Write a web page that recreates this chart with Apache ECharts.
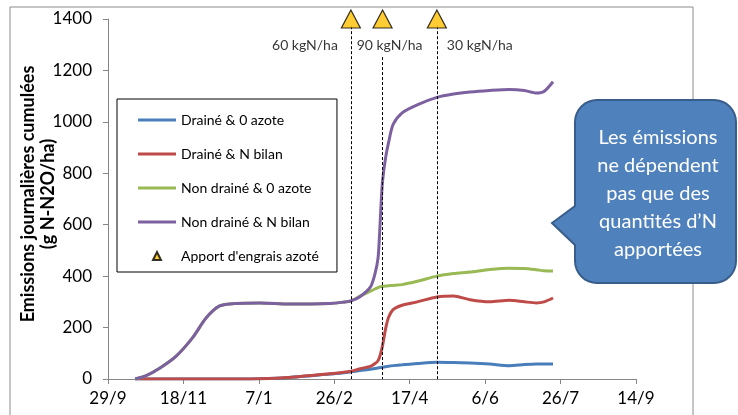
<!DOCTYPE html>
<html>
<head>
<meta charset="utf-8">
<script src="https://cdn.jsdelivr.net/npm/echarts@6/dist/echarts.min.js"></script>
<style>
    html, body { margin: 0; padding: 0; background: #fff; }
    #chart { width: 738px; height: 415px; }
</style>
</head>
<body>
<div id="chart"></div>
<script>
// jours depuis le 29/9
var xLabels = ['29/9', '18/11', '7/1', '26/2', '17/4', '6/6', '26/7', '14/9'];
var days = [18, 25, 35, 45, 56, 65, 74, 85, 101, 120, 147, 155, 161, 167, 174, 177, 179, 180, 181, 182, 184, 186, 189, 195, 205, 218, 229, 240, 253, 266, 276, 284, 289, 295];

var draineZero     = [0, 0, 0, 0, 0, 0, 0, 0, 1, 6, 19, 23, 28, 33, 38, 41, 43, 44, 45, 46, 48, 50, 52, 55, 60, 65, 64, 62, 58, 52, 56, 58, 58, 58];
var draineBilan    = [0, 0, 0, 0, 0, 0, 0, 0, 1, 6, 20, 25, 30, 40, 49, 60, 71, 85, 105, 130, 195, 240, 270, 287, 300, 319, 323, 308, 300, 306, 300, 296, 300, 315];
var nonDraineZero  = [0, 12, 45, 88, 160, 237, 284, 294, 296, 292, 294, 298, 304, 322, 342, 350, 355, 358, 359, 360, 362, 363, 364, 367, 380, 400, 410, 416, 426, 431, 430, 425, 421, 420];
var nonDraineBilan = [0, 12, 45, 88, 160, 237, 284, 294, 296, 292, 294, 298, 304, 320, 358, 410, 470, 560, 680, 770, 860, 920, 990, 1035, 1066, 1095, 1108, 1116, 1122, 1126, 1122, 1112, 1118, 1156];

var apportDays = [161, 182, 218];
var apportLabels = ['60 kgN/ha', '90 kgN/ha', '30 kgN/ha'];

var seriesNames = ['Drainé & 0 azote', 'Drainé & N bilan', 'Non drainé & 0 azote', 'Non drainé & N bilan', "Apport d'engrais azoté"];
var seriesColors = ['#4A7EBB', '#BE4B48', '#98B954', '#7D60A0'];
var calloutLines = ['Les émissions', 'ne dépendent', 'pas que des', 'quantités d\u2019N', 'apportées'];

function pairs(vals) {
    return days.map(function (d, i) { return [d, vals[i]]; });
}

// contour de la bulle : rectangle arrondi + pointe à gauche
function bubblePoints(x0, y0, x1, y1, r, tip) {
    var pts = [];
    function arc(cx, cy, a0, a1) {
        for (var k = 0; k <= 8; k++) {
            var a = a0 + (a1 - a0) * k / 8;
            pts.push([cx + r * Math.cos(a), cy + r * Math.sin(a)]);
        }
    }
    arc(x0 + r, y0 + r, Math.PI, Math.PI * 1.5);
    arc(x1 - r, y0 + r, Math.PI * 1.5, Math.PI * 2);
    arc(x1 - r, y1 - r, 0, Math.PI * 0.5);
    arc(x0 + r, y1 - r, Math.PI * 0.5, Math.PI);
    pts.push([x0, tip[2]], [tip[0], tip[1]], [x0, tip[3]]);
    return pts;
}

var font = 'Lato';
var linePath = 'path://M0,0 L38,0 L38,3 L0,3 Z';
// petit triangle dans une boîte 38x10
var triPath = 'path://M0,0 M38,10 M15,9 L19,1 L23,9 Z';

var lineSeries = [draineZero, draineBilan, nonDraineZero, nonDraineBilan].map(function (vals, i) {
    return {
        name: seriesNames[i],
        type: 'line',
        data: pairs(vals),
        showSymbol: false,
        smooth: 0.25,
        color: seriesColors[i],
        lineStyle: { width: 3, color: seriesColors[i] }
    };
});

// placement des étiquettes des apports
var labelCfg = [
    { align: 'right', offset: [-13, 26] },
    { align: 'center', offset: [7, 26] },
    { align: 'left', offset: [10, 26] }
];

var apportSeries = {
    name: seriesNames[4],
    type: 'scatter',
    symbol: 'triangle',
    symbolSize: [19, 18],
    clip: false,
    z: 5,
    itemStyle: { color: '#FFC000', borderColor: '#000', borderWidth: 1.2 },
    data: apportDays.map(function (d, i) {
        return {
            value: [d, 1400],
            label: {
                show: true,
                formatter: apportLabels[i],
                position: 'inside',
                align: labelCfg[i].align,
                offset: labelCfg[i].offset,
                color: '#000',
                fontSize: 14,
                fontFamily: font
            }
        };
    }),
    markLine: {
        silent: true,
        symbol: ['none', 'none'],
        label: { show: false },
        lineStyle: { color: '#000', type: [3, 2], width: 1 },
        data: apportDays.map(function (d, i) {
            return [{ coord: [d, i === 1 ? 1252 : 1372] }, { coord: [d, 0] }];
        })
    }
};

var myChart = echarts.init(document.getElementById('chart'));
myChart.setOption({
    animation: false,
    textStyle: { fontFamily: font },
    grid: { left: 108, right: 102, top: 19, bottom: 36, outerBoundsMode: 'none' },
    xAxis: {
        type: 'value',
        min: 0,
        max: 350,
        interval: 50,
        splitLine: { show: false },
        axisLine: { show: true, lineStyle: { color: '#868686' } },
        axisTick: { show: true, length: 5, lineStyle: { color: '#868686' } },
        axisLabel: {
            formatter: function (v) { return xLabels[Math.round(v / 50)]; },
            fontSize: 17, color: '#000', fontFamily: font, margin: 11
        }
    },
    yAxis: {
        type: 'value',
        min: 0,
        max: 1400,
        interval: 200,
        name: 'Emissions journalières cumulées\n(g N-N2O/ha)',
        nameLocation: 'middle',
        nameGap: 50,
        nameMoveOverlap: false,
        nameTextStyle: { fontSize: 18, fontWeight: 'bold', color: '#000', fontFamily: font, lineHeight: 20, padding: [0, 0, 0, 10] },
        splitLine: { show: false },
        axisLine: { show: true, lineStyle: { color: '#868686' } },
        axisTick: { show: true, length: 5, lineStyle: { color: '#868686' } },
        axisLabel: {
            formatter: function (v) { return String(v); },
            fontSize: 17, color: '#000', fontFamily: font, margin: 16
        }
    },
    legend: {
        left: 117,
        top: 99,
        orient: 'vertical',
        itemWidth: 38,
        itemHeight: 10,
        itemGap: 18,
        padding: [13, 18, 8, 20],
        borderColor: '#000',
        borderWidth: 1,
        textStyle: { fontSize: 14, fontFamily: font, color: '#000', lineHeight: 16 },
        data: seriesNames.map(function (n, i) {
            return { name: n, icon: i < 4 ? linePath : triPath };
        })
    },
    graphic: {
        elements: [
            {
                type: 'rect',
                z: 0,
                shape: { x: 10, y: 7, width: 683, height: 430 },
                style: { fill: 'none', stroke: '#8c8c8c', lineWidth: 1 }
            },
            {
                type: 'polygon',
                z: 10,
                shape: { points: bubblePoints(575, 100, 736, 283, 22, [552, 223, 245, 206]) },
                style: { fill: '#4F81BD', stroke: '#385D8A', lineWidth: 2 }
            },
            {
                type: 'text',
                z: 11,
                x: 658,
                y: 194,
                style: {
                    text: calloutLines.join('\n'),
                    fill: '#fff',
                    fontSize: 20,
                    fontFamily: font,
                    align: 'center',
                    verticalAlign: 'middle',
                    lineHeight: 28
                }
            }
        ]
    },
    series: lineSeries.concat([apportSeries])
});
</script>
</body>
</html>
